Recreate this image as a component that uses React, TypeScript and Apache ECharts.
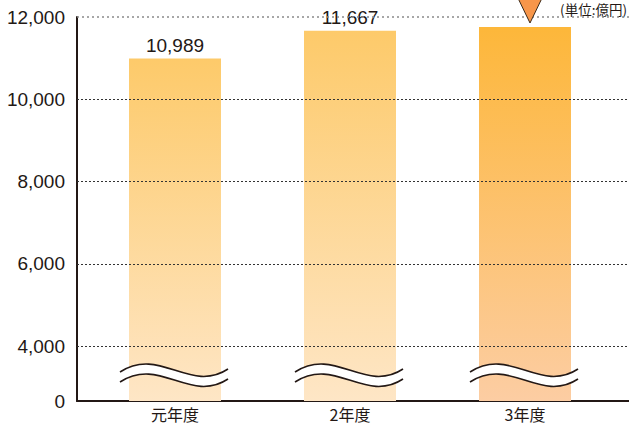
import React, { useEffect, useRef } from "react";
import * as echarts from "echarts";

const CATEGORIES = ["元年度", "2年度", "3年度"];
const VALUES = [10989, 11667, 11757];
const SHOW_LABEL = [true, true, false];
const Y_TICKS = [4000, 6000, 8000, 10000, 12000];
const Y_MAX = 12000;
const AXIS_MIN = 2663; // shown as "0" (broken axis)
const BREAK_AT = 3417;
const UNIT = "(単位:億円)";

const TOP_COLORS = ["#FDCA6A", "#FDCA6A", "#FDB73A"];
const BOTTOM_COLORS = ["#FEE6C6", "#FEE6C6", "#FCCDA3"];
const INK = "#231815";

function curve(cx: number, y: number) {
  return `M${cx - 55},${y + 2} C${cx - 15},${y - 24} ${cx + 15},${y + 24} ${cx + 53},${y - 1}`;
}
function band(cx: number, y: number, g: number) {
  return (
    `M${cx - 55},${y + 2} C${cx - 15},${y - 24} ${cx + 15},${y + 24} ${cx + 53},${y - 1}` +
    ` L${cx + 53},${y - 1 + g} C${cx + 15},${y + 24 + g} ${cx - 15},${y - 24 + g} ${cx - 55},${y + 2 + g} Z`
  );
}

export default function App() {
  const ref = useRef<HTMLDivElement>(null);
  useEffect(() => {
    document.body.style.margin = "0";
    if (!ref.current) return;
    const chart = echarts.init(ref.current, null, { renderer: "svg" });
    const fmt = (v: number) => v.toLocaleString("en-US");
    const option: any = {
      animation: false,
      backgroundColor: "#fff",
      textStyle: { fontFamily: "Liberation Sans, Arial, sans-serif" },
      grid: [
        { left: 77, right: 0, top: 17, bottom: 27 },
        { left: 87.5, width: 525, top: 17, bottom: 27 },
      ],
      xAxis: [
        {
          gridIndex: 0,
          type: "value",
          min: 0,
          max: 1,
          axisLine: { show: true, onZero: false, lineStyle: { color: INK, width: 2 } },
          axisTick: { show: false },
          axisLabel: { show: false },
          splitLine: { show: false },
        },
        {
          gridIndex: 1,
          type: "category",
          data: CATEGORIES,
          axisLine: { show: false },
          axisTick: { show: false },
          axisLabel: {
            color: INK,
            fontSize: 16,
            margin: 5,
            fontFamily: "Noto Sans CJK JP, sans-serif",
          },
        },
      ],
      yAxis: [
        {
          gridIndex: 0,
          type: "value",
          min: AXIS_MIN,
          max: Y_MAX,
          axisLine: { show: true, lineStyle: { color: INK, width: 2 } },
          axisTick: { show: false },
          splitLine: { show: false },
          axisLabel: {
            customValues: [AXIS_MIN, ...Y_TICKS],
            formatter: (v: number) => (v === AXIS_MIN ? "0" : fmt(v)),
            color: INK,
            fontSize: 19,
            margin: 12,
            fontFamily: "Liberation Sans, Arial, sans-serif",
          },
        },
        {
          gridIndex: 1,
          type: "value",
          min: AXIS_MIN,
          max: Y_MAX,
          show: false,
        },
      ],
      graphic: [
        {
          type: "text",
          right: 2,
          top: 2,
          style: {
            text: UNIT,
            fill: INK,
            fontSize: 13.5,
            fontFamily: "Noto Sans CJK JP, sans-serif",
          },
        },
      ],
      series: [
        {
          type: "line",
          xAxisIndex: 0,
          yAxisIndex: 0,
          z: 1,
          symbol: "none",
          data: [[0, AXIS_MIN]],
          lineStyle: { opacity: 0 },
          markLine: {
            silent: true,
            symbol: "none",
            label: { show: false },
            data: Y_TICKS.map((t) => ({
              yAxis: t,
              lineStyle:
                t === Y_MAX
                  ? { color: "#8a8a8a", type: [2, 3], width: 1.5 }
                  : { color: "#333", type: [2, 2], width: 1 },
            })),
          },
        },
        {
          type: "bar",
          xAxisIndex: 1,
          yAxisIndex: 1,
          z: 2,
          barWidth: 92,
          clip: true,
          data: VALUES.map((v, i) => ({
            value: v,
            itemStyle: {
              color: new echarts.graphic.LinearGradient(0, 0, 0, 1, [
                { offset: 0, color: TOP_COLORS[i] },
                { offset: 1, color: BOTTOM_COLORS[i] },
              ]),
            },
            label: {
              show: SHOW_LABEL[i],
              position: "top",
              distance: 4,
              formatter: () => fmt(v),
              color: INK,
              fontSize: 19,
              backgroundColor: "#fff",
              padding: [0, 4],
              fontFamily: "Liberation Sans, Arial, sans-serif",
            },
          })),
        },
        {
          type: "custom",
          xAxisIndex: 1,
          yAxisIndex: 1,
          z: 5,
          silent: true,
          data: VALUES.map((v, i) => [i, v]),
          encode: { x: 0, y: 1 },
          renderItem: (params: any, api: any) => {
            const idx = api.value(0);
            const [cx, by] = api.coord([idx, BREAK_AT]);
            const top = api.coord([idx, api.value(1)])[1];
            const g = 10;
            const children: any[] = [
              { type: "path", shape: { pathData: band(cx, by, g) }, style: { fill: "#fff", stroke: null } },
              { type: "path", shape: { pathData: curve(cx, by) }, style: { fill: null, stroke: INK, lineWidth: 1.6 } },
              { type: "path", shape: { pathData: curve(cx, by + g) }, style: { fill: null, stroke: INK, lineWidth: 1.6 } },
            ];
            if (idx === VALUES.length - 1) {
              const tx = cx + 5;
              const ty = top - 4;
              children.push({
                type: "polygon",
                shape: { points: [[tx - 14, ty - 29], [tx + 14, ty - 29], [tx, ty]] },
                style: { fill: "#F7964A", stroke: "#3a2a1a", lineWidth: 1 },
              });
            }
            return { type: "group", children };
          },
        },
      ],
    };
    chart.setOption(option);
    return () => chart.dispose();
  }, []);
  return <div ref={ref} style={{ width: 629, height: 428 }} />;
}
